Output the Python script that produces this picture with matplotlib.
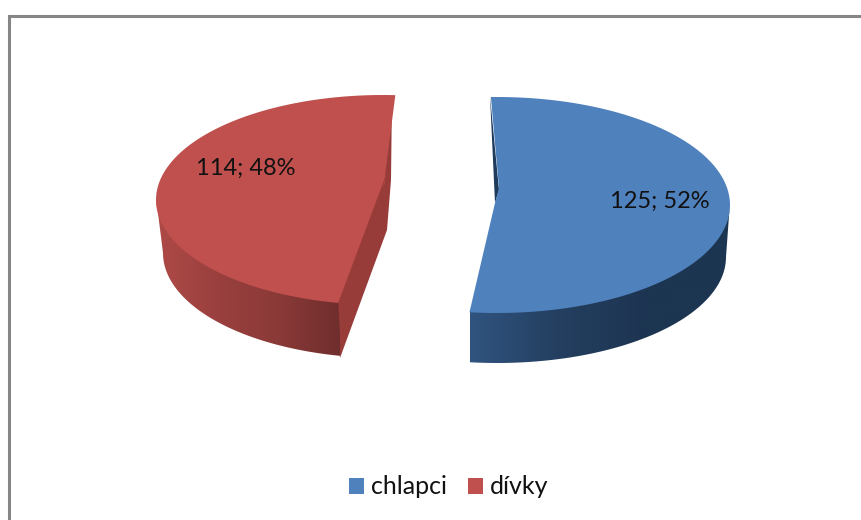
import numpy as np
from matplotlib import pyplot as plt
from matplotlib.colors import LinearSegmentedColormap
from matplotlib.patches import Patch, Polygon

# Data
labels = ["chlapci", "dívky"]
values = [125, 114]
top_colors = ["#4F81BD", "#C0504D"]

plt.rcParams["font.family"] = ["Lato", "DejaVu Sans"]

total = sum(values)
sweeps = [v / total * 360 for v in values]


def arc(cx, cy, rx, ry, start, end, n=120):
    # angles clockwise from 12 o'clock, y grows downward (pixel axes)
    t = np.radians(np.linspace(start, end, n))
    return np.column_stack([cx + rx * np.sin(t), cy - ry * np.cos(t)])


def draw_wall(ax, pts, x0, x1, y0, y1, colors):
    cmap = LinearSegmentedColormap.from_list("wall", colors)
    poly = Polygon(pts, closed=True, fc="none", ec="none")
    ax.add_patch(poly)
    im = ax.imshow(
        np.linspace(0, 1, 256).reshape(1, -1),
        cmap=cmap,
        extent=(x0, x1, y1, y0),
        aspect="auto",
        zorder=2,
    )
    im.set_clip_path(poly)


fig = plt.figure(figsize=(8.61, 5.2), dpi=100)
ax = fig.add_axes([0, 0, 1, 1])
ax.axis("off")

# Chart frame: only the left and top edges are visible
ax.plot([8.5, 8.5, 861], [520, 15.5, 15.5], color="#868686", lw=2.2,
        solid_joinstyle="miter", zorder=1)

# %%
# Blue slice, starts at the top and runs clockwise
b_start = -1.5
b_end = b_start + sweeps[0]
b_top = arc(497, 205, 233, 108, b_start, b_end)
b_low = arc(497, 257, 229, 106, 90, b_end)
# wall reaches under the top face so no seam shows
b_wall_top = arc(497, 202, 233, 108, 90, b_end)
draw_wall(ax, np.vstack([b_wall_top, b_low[::-1]]), 470, 730, 200, 365,
          ["#30547F", "#243F60", "#1D3552", "#1C3551"])
ax.add_patch(Polygon([(490, 96), (499, 190), (495, 203)], fc="#1E3A5C", ec="none", zorder=2))
ax.add_patch(Polygon(np.vstack([b_top, [(495, 203), (499, 188)]]),
                     fc=top_colors[0], ec="none", zorder=3))

# %%
# Red slice
r_start = 191.4
r_end = r_start + sweeps[1]
r_top = arc(383, 200, 227, 105, r_start, r_end)
r_low = arc(385, 253, 222, 105, r_start, 270)
r_wall_top = arc(383, 197, 227, 105, r_start, 270)
# inner face sits under the top face
ax.add_patch(Polygon([(392, 96), (391, 180), (387, 230), (340, 358), (336, 300), (365, 190), (375, 110)],
                     fc="#983C3A", ec="none", zorder=2))
draw_wall(ax, np.vstack([r_wall_top, r_low[::-1]]), 156, 340, 200, 360,
          ["#AE4A47", "#9A403E", "#8A3A38", "#6F2E2D"])
ax.add_patch(Polygon(np.vstack([r_top, [(383, 191), (386, 175)]]),
                     fc=top_colors[1], ec="none", zorder=3))

# %%
# Data labels and legend
text_kw = dict(fontsize=17, color="#111111", va="center", ha="center", zorder=4)
pct = [round(v / total * 100) for v in values]
ax.text(660, 201, f"{values[0]}; {pct[0]}%", **text_kw)
ax.text(246, 168, f"{values[1]}; {pct[1]}%", **text_kw)

handles = [Patch(fc=c, ec="none", label=l) for c, l in zip(top_colors, labels)]
ax.legend(
    handles=handles,
    ncol=2,
    frameon=False,
    loc="center",
    bbox_to_anchor=(449 / 861, 1 - 487 / 520),
    fontsize=18,
    labelcolor="#111111",
    handlelength=0.6,
    handleheight=0.6,
    handletextpad=0.28,
    columnspacing=0.85,
)

ax.set_xlim(0, 861)
ax.set_ylim(520, 0)
plt.savefig("out.png", dpi=100)
